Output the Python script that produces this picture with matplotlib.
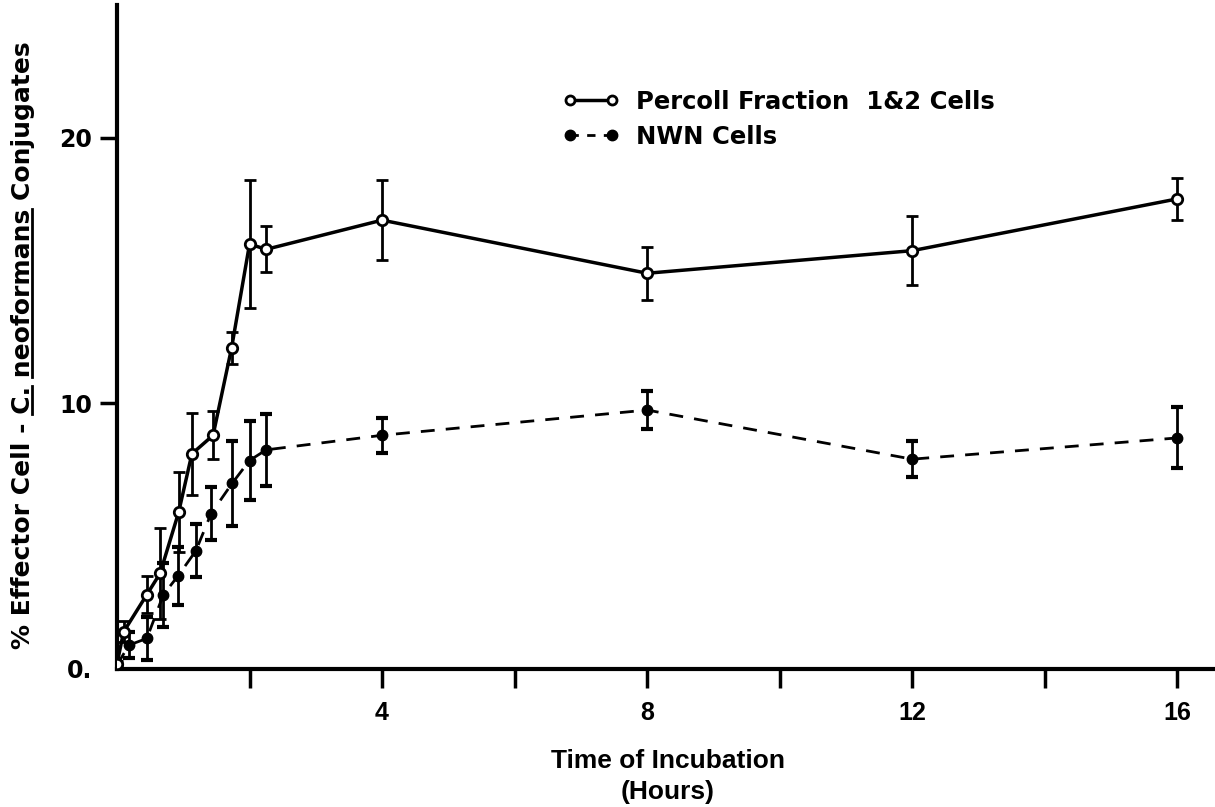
import matplotlib.pyplot as plt
from matplotlib.lines import Line2D
from matplotlib import font_manager

# Percoll fraction 1&2 cells (open circles, solid line)
percoll_t = [0.0, 0.1, 0.45, 0.65, 0.93, 1.13, 1.45, 1.73, 2.0, 2.25, 4, 8, 12, 16]
percoll_y = [0.2, 1.4, 2.8, 3.6, 5.9, 8.1, 8.8, 12.1, 16.0, 15.8, 16.9, 14.9, 15.75, 17.7]
percoll_err = [0.1, 0.4, 0.7, 1.7, 1.5, 1.55, 0.9, 0.6, 2.4, 0.87, 1.5, 1.0, 1.3, 0.8]

# NWN cells (filled circles, dashed line)
nwn_t = [0.0, 0.18, 0.45, 0.7, 0.92, 1.19, 1.42, 1.74, 2.0, 2.25, 4, 8, 12, 16]
nwn_y = [0.15, 0.9, 1.15, 2.8, 3.5, 4.45, 5.85, 7.0, 7.85, 8.25, 8.8, 9.75, 7.9, 8.7]
nwn_err = [0.1, 0.5, 0.8, 1.2, 1.1, 1.0, 1.0, 1.6, 1.5, 1.35, 0.65, 0.7, 0.68, 1.15]

x_ticks = [2, 4, 6, 8, 10, 12, 14, 16]
x_tick_labels = ['', '4', '', '8', '', '12', '', '16']
y_ticks = [0, 10, 20]
y_tick_labels = ['0.', '10', '20']
labels = ['Percoll Fraction  1&2 Cells', 'NWN Cells']

plt.rcParams['font.family'] = ['DejaVu Sans']
plt.rcParams['font.weight'] = 'bold'

# narrow face for the x axis texts, if there is one
names = {f.name for f in font_manager.fontManager.ttflist}
if 'Liberation Sans Narrow' in names:
    narrow, nfs, lfs = 'Liberation Sans Narrow', 22, 23
else:
    narrow, nfs, lfs = 'Liberation Sans', 18, 19

W_PX, H_PX = 1215, 807
fig = plt.figure(figsize=(W_PX / 100, H_PX / 100), dpi=100)
ax = fig.add_axes([117 / W_PX, 1 - 669 / H_PX, 1 - 117 / W_PX, 664 / H_PX])

ax.errorbar(percoll_t, percoll_y, yerr=percoll_err, color='black', lw=2.5,
            marker='o', ms=7.5, mfc='white', mec='black', mew=2,
            ecolor='black', elinewidth=2, capsize=4, capthick=3, zorder=3)
ax.errorbar(nwn_t, nwn_y, yerr=nwn_err, color='black', lw=2, ls=(0, (5, 4)),
            marker='o', ms=7.5, mfc='black', mec='black',
            ecolor='black', elinewidth=2, capsize=4, capthick=3, zorder=2)

ax.set_xlim(0, 16.57)
ax.set_ylim(0, 25)
for s in ['top', 'right']:
    ax.spines[s].set_visible(False)
for s in ['left', 'bottom']:
    ax.spines[s].set_linewidth(3)

ax.set_xticks(x_ticks)
ax.set_xticklabels(x_tick_labels, fontfamily=narrow, fontsize=nfs, fontweight='bold')
ax.set_yticks(y_ticks)
ax.set_yticklabels(y_tick_labels, fontsize=17, fontweight='bold')
ax.tick_params(axis='x', direction='out', length=14, width=2.5, pad=9)
ax.tick_params(axis='y', direction='out', length=12, width=2.5, pad=6)
ax.yaxis.get_major_ticks()[0].tick1line.set_visible(False)

fig.text(668 / W_PX, 1 - 761 / H_PX, 'Time of Incubation', ha='center', va='center',
         fontfamily=narrow, fontsize=lfs, fontweight='bold')
fig.text(668 / W_PX, 1 - 792 / H_PX, '(Hours)', ha='center', va='center',
         fontfamily=narrow, fontsize=lfs, fontweight='bold')

handles = [Line2D([], [], color='black', lw=2.5, marker='o', ms=6.5, mfc='white', mew=2),
           Line2D([], [], color='black', lw=2, ls=(0, (3, 3)), marker='o', ms=7.5, mfc='black')]
ax.legend(handles, labels, loc='upper left', bbox_to_anchor=(563 / W_PX, 1 - 90 / H_PX),
          bbox_transform=fig.transFigure, frameon=False, numpoints=2,
          handlelength=2.3, handletextpad=0.7, labelspacing=0.45,
          borderpad=0, borderaxespad=0, prop={'size': 17.5, 'weight': 'bold'})

# y label with underlined "C." and "neoformans"
prefix = '% Effector Cell - '
ylab = prefix + 'C. neoformans Conjugates'
ytxt = fig.text(23 / W_PX, 1 - 345 / H_PX, ylab, rotation=90, ha='center', va='center',
                fontsize=18, fontweight='bold')
renderer = fig.canvas.get_renderer()


def text_w(s):
    t = fig.text(0, 0, s, fontsize=18, fontweight='bold')
    w = t.get_window_extent(renderer).width
    t.remove()
    return w


bb = ytxt.get_window_extent(renderer)
ux = bb.x1 - 3
for word, before in [('C.', prefix), ('neoformans', prefix + 'C. ')]:
    end = bb.y0 + text_w(before + word)
    start = end - text_w(word)
    fig.add_artist(Line2D([ux / W_PX, ux / W_PX], [start / H_PX, end / H_PX],
                          color='black', lw=2, transform=fig.transFigure))

fig.savefig('out.png', dpi=100)
